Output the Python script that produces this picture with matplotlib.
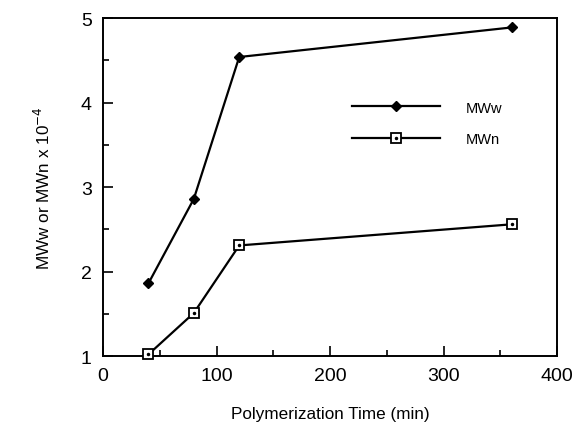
import matplotlib
matplotlib.use("Agg")
import matplotlib.pyplot as plt
from matplotlib.ticker import MultipleLocator

plt.rcParams['font.family'] = ['Liberation Sans', 'DejaVu Sans']

# data
time_min = [40, 80, 120, 360]
mww = [1.86, 2.86, 4.54, 4.89]
mwn = [1.02, 1.51, 2.31, 2.56]

fig = plt.figure(figsize=(5.72, 4.35), dpi=100)
ax = fig.add_axes([0.180, 0.179, 0.794, 0.777])

lw = 1.6
l1, = ax.plot(time_min, mww, color='black', lw=lw, marker='D', ms=5.5,
              mfc='black', mec='black', clip_on=False, zorder=3)
l2, = ax.plot(time_min, mwn, color='black', lw=lw, marker='s', ms=7.5,
              mfc='white', mec='black', mew=1.3, clip_on=False, zorder=3)
dots, = ax.plot(time_min, mwn, ls='none', marker='o', ms=1.5,
                color='black', clip_on=False, zorder=4)

ax.set_xlim(0, 400)
ax.set_ylim(1, 5)
ax.xaxis.set_major_locator(MultipleLocator(100))
ax.xaxis.set_minor_locator(MultipleLocator(50))
ax.yaxis.set_major_locator(MultipleLocator(1))
ax.yaxis.set_minor_locator(MultipleLocator(0.5))
ax.tick_params(which='both', direction='in', width=1.2, labelsize=14,
               top=False, right=False)
ax.tick_params(which='major', length=7, pad=8)
ax.tick_params(which='minor', length=4)
for s in ax.spines.values():
    s.set_linewidth(1.4)

ax.set_xlabel('Polymerization Time (min)', fontsize=12.3, labelpad=16)
ax.set_ylabel(r'MWw or MWn x 10$^{-4}$', fontsize=12.3, labelpad=20)

ax.legend([l1, (l2, dots)], ['MWw', 'MWn'], frameon=False, fontsize=10.5,
          handlelength=6.0, handletextpad=1.8, labelspacing=1.2,
          loc='upper left', bbox_to_anchor=(0.52, 0.795))

fig.savefig('out.png', dpi=100)
